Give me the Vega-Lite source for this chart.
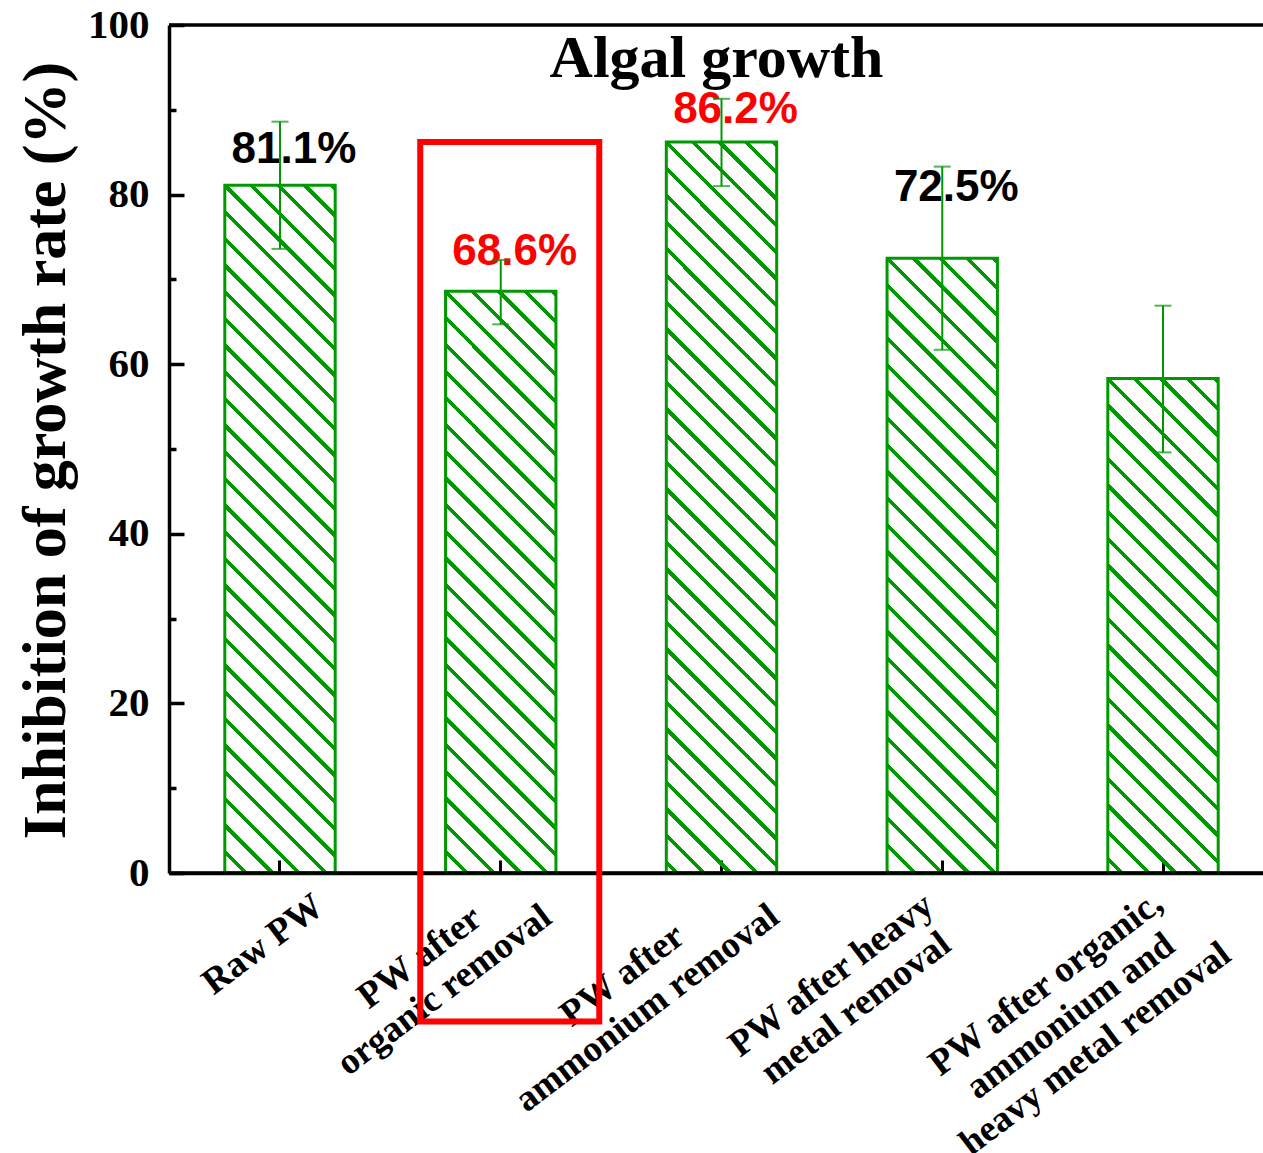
{
  "$schema": "https://vega.github.io/schema/vega-lite/v6.json",
  "width": 1094,
  "height": 848,
  "autosize": "none",
  "padding": {"left": 169, "top": 25, "right": 0, "bottom": 280},
  "background": "white",
  "config": {"view": {"stroke": null}},
  "datasets": {
    "bars": [
      {"cat": "Raw PW", "value": 81.1, "lower": 73.6, "upper": 88.6},
      {"cat": "PW after organic removal", "value": 68.6, "lower": 64.7, "upper": 72.3},
      {"cat": "PW after ammonium removal", "value": 86.2, "lower": 81.0, "upper": 91.3},
      {"cat": "PW after heavy metal removal", "value": 72.5, "lower": 61.7, "upper": 83.3},
      {"cat": "PW after organic, ammonium and heavy metal removal", "value": 58.3, "lower": 49.6, "upper": 66.9}
    ],
    "labels": [
      {"cat": "Raw PW", "pos": 85.3, "text": "81.1%", "group": "normal"},
      {"cat": "PW after organic removal", "pos": 73.2, "text": "68.6%", "group": "highlight"},
      {"cat": "PW after ammonium removal", "pos": 90.0, "text": "86.2%", "group": "highlight"},
      {"cat": "PW after heavy metal removal", "pos": 80.8, "text": "72.5%", "group": "normal"}
    ],
    "box": [{"cat": "PW after organic removal", "top": 86.2, "bottom": -17.5}]
  },
  "layer": [
    {
      "data": {"name": "bars"},
      "encoding": {
        "x": {
          "field": "cat", "type": "nominal", "sort": null,
          "scale": {"domain": ["Raw PW", "PW after organic removal", "PW after ammonium removal", "PW after heavy metal removal", "PW after organic, ammonium and heavy metal removal"], "range": [0, 1105], "paddingInner": 0.5, "paddingOuter": 0.2528},
          "axis": {
            "title": null,
            "labelExpr": "datum.value === 'Raw PW' ? 'Raw PW' : datum.value === 'PW after organic removal' ? ['PW after', 'organic removal'] : datum.value === 'PW after ammonium removal' ? ['PW after', 'ammonium removal'] : datum.value === 'PW after heavy metal removal' ? ['PW after heavy', 'metal removal'] : ['PW after organic,', 'ammonium and', 'heavy metal removal']",
            "labelAngle": -37,
            "labelAlign": "center",
            "labelBaseline": "middle",
            "labelFont": "Liberation Serif",
            "labelFontSize": 37,
            "labelFontWeight": "bold",
            "labelColor": "black",
            "labelLineHeight": 41,
            "labelLimit": 0,
            "labelOverlap": false,
            "labelOffset": {"condition": [
              {"test": "datum.value === 'Raw PW'", "value": -17},
              {"test": "datum.value === 'PW after organic removal'", "value": -81},
              {"test": "datum.value === 'PW after ammonium removal'", "value": -99},
              {"test": "datum.value === 'PW after heavy metal removal'", "value": -111}
            ], "value": -117},
            "labelPadding": {"condition": [
              {"test": "datum.value === 'Raw PW'", "value": 84},
              {"test": "datum.value === 'PW after organic removal'", "value": 97},
              {"test": "datum.value === 'PW after ammonium removal'", "value": 115},
              {"test": "datum.value === 'PW after heavy metal removal'", "value": 115}
            ], "value": 123},
            "tickSize": -13,
            "tickWidth": 3,
            "tickColor": "black",
            "domainColor": "black",
            "domainWidth": 3.5
          }
        }
      },
      "layer": [
        {
          "transform": [{"filter": "datum.cat === 'Raw PW'"}],
          "mark": {"type": "bar", "stroke": "#090", "strokeWidth": 3, "fill": {"gradient": "linear", "x1": 0, "y1": 1.0083, "x2": 0.2002, "y2": -0.2393, "stops": [{"offset":0.0273,"color":"#fff0"},{"offset":0.0273,"color":"#090"},{"offset":0.0333,"color":"#090"},{"offset":0.0333,"color":"#fff0"},{"offset":0.0576,"color":"#fff0"},{"offset":0.0576,"color":"#090"},{"offset":0.0636,"color":"#090"},{"offset":0.0636,"color":"#fff0"},{"offset":0.0879,"color":"#fff0"},{"offset":0.0879,"color":"#090"},{"offset":0.0939,"color":"#090"},{"offset":0.0939,"color":"#fff0"},{"offset":0.1182,"color":"#fff0"},{"offset":0.1182,"color":"#090"},{"offset":0.1242,"color":"#090"},{"offset":0.1242,"color":"#fff0"},{"offset":0.1485,"color":"#fff0"},{"offset":0.1485,"color":"#090"},{"offset":0.1545,"color":"#090"},{"offset":0.1545,"color":"#fff0"},{"offset":0.1788,"color":"#fff0"},{"offset":0.1788,"color":"#090"},{"offset":0.1848,"color":"#090"},{"offset":0.1848,"color":"#fff0"},{"offset":0.2091,"color":"#fff0"},{"offset":0.2091,"color":"#090"},{"offset":0.2151,"color":"#090"},{"offset":0.2151,"color":"#fff0"},{"offset":0.2394,"color":"#fff0"},{"offset":0.2394,"color":"#090"},{"offset":0.2454,"color":"#090"},{"offset":0.2454,"color":"#fff0"},{"offset":0.2697,"color":"#fff0"},{"offset":0.2697,"color":"#090"},{"offset":0.2757,"color":"#090"},{"offset":0.2757,"color":"#fff0"},{"offset":0.3,"color":"#fff0"},{"offset":0.3,"color":"#090"},{"offset":0.306,"color":"#090"},{"offset":0.306,"color":"#fff0"},{"offset":0.3303,"color":"#fff0"},{"offset":0.3303,"color":"#090"},{"offset":0.3363,"color":"#090"},{"offset":0.3363,"color":"#fff0"},{"offset":0.3606,"color":"#fff0"},{"offset":0.3606,"color":"#090"},{"offset":0.3666,"color":"#090"},{"offset":0.3666,"color":"#fff0"},{"offset":0.3909,"color":"#fff0"},{"offset":0.3909,"color":"#090"},{"offset":0.3969,"color":"#090"},{"offset":0.3969,"color":"#fff0"},{"offset":0.4212,"color":"#fff0"},{"offset":0.4212,"color":"#090"},{"offset":0.4272,"color":"#090"},{"offset":0.4272,"color":"#fff0"},{"offset":0.4515,"color":"#fff0"},{"offset":0.4515,"color":"#090"},{"offset":0.4575,"color":"#090"},{"offset":0.4575,"color":"#fff0"},{"offset":0.4818,"color":"#fff0"},{"offset":0.4818,"color":"#090"},{"offset":0.4878,"color":"#090"},{"offset":0.4878,"color":"#fff0"},{"offset":0.5122,"color":"#fff0"},{"offset":0.5122,"color":"#090"},{"offset":0.5182,"color":"#090"},{"offset":0.5182,"color":"#fff0"},{"offset":0.5425,"color":"#fff0"},{"offset":0.5425,"color":"#090"},{"offset":0.5485,"color":"#090"},{"offset":0.5485,"color":"#fff0"},{"offset":0.5728,"color":"#fff0"},{"offset":0.5728,"color":"#090"},{"offset":0.5788,"color":"#090"},{"offset":0.5788,"color":"#fff0"},{"offset":0.6031,"color":"#fff0"},{"offset":0.6031,"color":"#090"},{"offset":0.6091,"color":"#090"},{"offset":0.6091,"color":"#fff0"},{"offset":0.6334,"color":"#fff0"},{"offset":0.6334,"color":"#090"},{"offset":0.6394,"color":"#090"},{"offset":0.6394,"color":"#fff0"},{"offset":0.6637,"color":"#fff0"},{"offset":0.6637,"color":"#090"},{"offset":0.6697,"color":"#090"},{"offset":0.6697,"color":"#fff0"},{"offset":0.694,"color":"#fff0"},{"offset":0.694,"color":"#090"},{"offset":0.7,"color":"#090"},{"offset":0.7,"color":"#fff0"},{"offset":0.7243,"color":"#fff0"},{"offset":0.7243,"color":"#090"},{"offset":0.7303,"color":"#090"},{"offset":0.7303,"color":"#fff0"},{"offset":0.7546,"color":"#fff0"},{"offset":0.7546,"color":"#090"},{"offset":0.7606,"color":"#090"},{"offset":0.7606,"color":"#fff0"},{"offset":0.7849,"color":"#fff0"},{"offset":0.7849,"color":"#090"},{"offset":0.7909,"color":"#090"},{"offset":0.7909,"color":"#fff0"},{"offset":0.8152,"color":"#fff0"},{"offset":0.8152,"color":"#090"},{"offset":0.8212,"color":"#090"},{"offset":0.8212,"color":"#fff0"},{"offset":0.8455,"color":"#fff0"},{"offset":0.8455,"color":"#090"},{"offset":0.8515,"color":"#090"},{"offset":0.8515,"color":"#fff0"},{"offset":0.8758,"color":"#fff0"},{"offset":0.8758,"color":"#090"},{"offset":0.8818,"color":"#090"},{"offset":0.8818,"color":"#fff0"},{"offset":0.9061,"color":"#fff0"},{"offset":0.9061,"color":"#090"},{"offset":0.9121,"color":"#090"},{"offset":0.9121,"color":"#fff0"},{"offset":0.9364,"color":"#fff0"},{"offset":0.9364,"color":"#090"},{"offset":0.9424,"color":"#090"},{"offset":0.9424,"color":"#fff0"},{"offset":0.9667,"color":"#fff0"},{"offset":0.9667,"color":"#090"},{"offset":0.9727,"color":"#090"},{"offset":0.9727,"color":"#fff0"}]}},
          "encoding": {"y": {"field": "value", "type": "quantitative", "scale": {"domain": [0, 100], "nice": false},
            "axis": {
              "title": "Inhibition of growth rate (%)",
              "titleFont": "Liberation Serif", "titleFontSize": 62, "titleFontWeight": "bold", "titleColor": "black",
              "titleX": -92, "titleY": 425, "titleAlign": "center", "titleBaseline": "bottom", "titleAngle": -90,
              "values": [0, 10, 20, 30, 40, 50, 60, 70, 80, 90, 100],
              "labelExpr": "datum.value % 20 === 0 ? datum.label : ''",
              "labelFont": "Liberation Serif", "labelFontSize": 41, "labelFontWeight": "bold", "labelColor": "black",
              "labelPadding": 35, "labelOverlap": false,
              "tickSize": {"condition": {"test": "datum.value % 20 === 0", "value": -15}, "value": -7},
              "tickWidth": 3.5, "tickColor": "black", "domainColor": "black", "domainWidth": 3.5, "grid": false
            }}}
        },
        {
          "transform": [{"filter": "datum.cat === 'PW after organic removal'"}],
          "mark": {"type": "bar", "stroke": "#090", "strokeWidth": 3, "fill": {"gradient": "linear", "x1": 0, "y1": 1.0086, "x2": 0.2771, "y2": -0.4517, "stops": [{"offset":0.0273,"color":"#fff0"},{"offset":0.0273,"color":"#090"},{"offset":0.0333,"color":"#090"},{"offset":0.0333,"color":"#fff0"},{"offset":0.0576,"color":"#fff0"},{"offset":0.0576,"color":"#090"},{"offset":0.0636,"color":"#090"},{"offset":0.0636,"color":"#fff0"},{"offset":0.0879,"color":"#fff0"},{"offset":0.0879,"color":"#090"},{"offset":0.0939,"color":"#090"},{"offset":0.0939,"color":"#fff0"},{"offset":0.1182,"color":"#fff0"},{"offset":0.1182,"color":"#090"},{"offset":0.1242,"color":"#090"},{"offset":0.1242,"color":"#fff0"},{"offset":0.1485,"color":"#fff0"},{"offset":0.1485,"color":"#090"},{"offset":0.1545,"color":"#090"},{"offset":0.1545,"color":"#fff0"},{"offset":0.1788,"color":"#fff0"},{"offset":0.1788,"color":"#090"},{"offset":0.1848,"color":"#090"},{"offset":0.1848,"color":"#fff0"},{"offset":0.2091,"color":"#fff0"},{"offset":0.2091,"color":"#090"},{"offset":0.2151,"color":"#090"},{"offset":0.2151,"color":"#fff0"},{"offset":0.2394,"color":"#fff0"},{"offset":0.2394,"color":"#090"},{"offset":0.2454,"color":"#090"},{"offset":0.2454,"color":"#fff0"},{"offset":0.2697,"color":"#fff0"},{"offset":0.2697,"color":"#090"},{"offset":0.2757,"color":"#090"},{"offset":0.2757,"color":"#fff0"},{"offset":0.3,"color":"#fff0"},{"offset":0.3,"color":"#090"},{"offset":0.306,"color":"#090"},{"offset":0.306,"color":"#fff0"},{"offset":0.3303,"color":"#fff0"},{"offset":0.3303,"color":"#090"},{"offset":0.3363,"color":"#090"},{"offset":0.3363,"color":"#fff0"},{"offset":0.3606,"color":"#fff0"},{"offset":0.3606,"color":"#090"},{"offset":0.3666,"color":"#090"},{"offset":0.3666,"color":"#fff0"},{"offset":0.3909,"color":"#fff0"},{"offset":0.3909,"color":"#090"},{"offset":0.3969,"color":"#090"},{"offset":0.3969,"color":"#fff0"},{"offset":0.4212,"color":"#fff0"},{"offset":0.4212,"color":"#090"},{"offset":0.4272,"color":"#090"},{"offset":0.4272,"color":"#fff0"},{"offset":0.4515,"color":"#fff0"},{"offset":0.4515,"color":"#090"},{"offset":0.4575,"color":"#090"},{"offset":0.4575,"color":"#fff0"},{"offset":0.4818,"color":"#fff0"},{"offset":0.4818,"color":"#090"},{"offset":0.4878,"color":"#090"},{"offset":0.4878,"color":"#fff0"},{"offset":0.5122,"color":"#fff0"},{"offset":0.5122,"color":"#090"},{"offset":0.5182,"color":"#090"},{"offset":0.5182,"color":"#fff0"},{"offset":0.5425,"color":"#fff0"},{"offset":0.5425,"color":"#090"},{"offset":0.5485,"color":"#090"},{"offset":0.5485,"color":"#fff0"},{"offset":0.5728,"color":"#fff0"},{"offset":0.5728,"color":"#090"},{"offset":0.5788,"color":"#090"},{"offset":0.5788,"color":"#fff0"},{"offset":0.6031,"color":"#fff0"},{"offset":0.6031,"color":"#090"},{"offset":0.6091,"color":"#090"},{"offset":0.6091,"color":"#fff0"},{"offset":0.6334,"color":"#fff0"},{"offset":0.6334,"color":"#090"},{"offset":0.6394,"color":"#090"},{"offset":0.6394,"color":"#fff0"},{"offset":0.6637,"color":"#fff0"},{"offset":0.6637,"color":"#090"},{"offset":0.6697,"color":"#090"},{"offset":0.6697,"color":"#fff0"},{"offset":0.694,"color":"#fff0"},{"offset":0.694,"color":"#090"},{"offset":0.7,"color":"#090"},{"offset":0.7,"color":"#fff0"},{"offset":0.7243,"color":"#fff0"},{"offset":0.7243,"color":"#090"},{"offset":0.7303,"color":"#090"},{"offset":0.7303,"color":"#fff0"},{"offset":0.7546,"color":"#fff0"},{"offset":0.7546,"color":"#090"},{"offset":0.7606,"color":"#090"},{"offset":0.7606,"color":"#fff0"},{"offset":0.7849,"color":"#fff0"},{"offset":0.7849,"color":"#090"},{"offset":0.7909,"color":"#090"},{"offset":0.7909,"color":"#fff0"},{"offset":0.8152,"color":"#fff0"},{"offset":0.8152,"color":"#090"},{"offset":0.8212,"color":"#090"},{"offset":0.8212,"color":"#fff0"},{"offset":0.8455,"color":"#fff0"},{"offset":0.8455,"color":"#090"},{"offset":0.8515,"color":"#090"},{"offset":0.8515,"color":"#fff0"},{"offset":0.8758,"color":"#fff0"},{"offset":0.8758,"color":"#090"},{"offset":0.8818,"color":"#090"},{"offset":0.8818,"color":"#fff0"},{"offset":0.9061,"color":"#fff0"},{"offset":0.9061,"color":"#090"},{"offset":0.9121,"color":"#090"},{"offset":0.9121,"color":"#fff0"},{"offset":0.9364,"color":"#fff0"},{"offset":0.9364,"color":"#090"},{"offset":0.9424,"color":"#090"},{"offset":0.9424,"color":"#fff0"},{"offset":0.9667,"color":"#fff0"},{"offset":0.9667,"color":"#090"},{"offset":0.9727,"color":"#090"},{"offset":0.9727,"color":"#fff0"}]}},
          "encoding": {"y": {"field": "value", "type": "quantitative"}}
        },
        {
          "transform": [{"filter": "datum.cat === 'PW after ammonium removal'"}],
          "mark": {"type": "bar", "stroke": "#090", "strokeWidth": 3, "fill": {"gradient": "linear", "x1": 0, "y1": 1.0216, "x2": 0.1778, "y2": -0.1556, "stops": [{"offset":0.0273,"color":"#fff0"},{"offset":0.0273,"color":"#090"},{"offset":0.0333,"color":"#090"},{"offset":0.0333,"color":"#fff0"},{"offset":0.0576,"color":"#fff0"},{"offset":0.0576,"color":"#090"},{"offset":0.0636,"color":"#090"},{"offset":0.0636,"color":"#fff0"},{"offset":0.0879,"color":"#fff0"},{"offset":0.0879,"color":"#090"},{"offset":0.0939,"color":"#090"},{"offset":0.0939,"color":"#fff0"},{"offset":0.1182,"color":"#fff0"},{"offset":0.1182,"color":"#090"},{"offset":0.1242,"color":"#090"},{"offset":0.1242,"color":"#fff0"},{"offset":0.1485,"color":"#fff0"},{"offset":0.1485,"color":"#090"},{"offset":0.1545,"color":"#090"},{"offset":0.1545,"color":"#fff0"},{"offset":0.1788,"color":"#fff0"},{"offset":0.1788,"color":"#090"},{"offset":0.1848,"color":"#090"},{"offset":0.1848,"color":"#fff0"},{"offset":0.2091,"color":"#fff0"},{"offset":0.2091,"color":"#090"},{"offset":0.2151,"color":"#090"},{"offset":0.2151,"color":"#fff0"},{"offset":0.2394,"color":"#fff0"},{"offset":0.2394,"color":"#090"},{"offset":0.2454,"color":"#090"},{"offset":0.2454,"color":"#fff0"},{"offset":0.2697,"color":"#fff0"},{"offset":0.2697,"color":"#090"},{"offset":0.2757,"color":"#090"},{"offset":0.2757,"color":"#fff0"},{"offset":0.3,"color":"#fff0"},{"offset":0.3,"color":"#090"},{"offset":0.306,"color":"#090"},{"offset":0.306,"color":"#fff0"},{"offset":0.3303,"color":"#fff0"},{"offset":0.3303,"color":"#090"},{"offset":0.3363,"color":"#090"},{"offset":0.3363,"color":"#fff0"},{"offset":0.3606,"color":"#fff0"},{"offset":0.3606,"color":"#090"},{"offset":0.3666,"color":"#090"},{"offset":0.3666,"color":"#fff0"},{"offset":0.3909,"color":"#fff0"},{"offset":0.3909,"color":"#090"},{"offset":0.3969,"color":"#090"},{"offset":0.3969,"color":"#fff0"},{"offset":0.4212,"color":"#fff0"},{"offset":0.4212,"color":"#090"},{"offset":0.4272,"color":"#090"},{"offset":0.4272,"color":"#fff0"},{"offset":0.4515,"color":"#fff0"},{"offset":0.4515,"color":"#090"},{"offset":0.4575,"color":"#090"},{"offset":0.4575,"color":"#fff0"},{"offset":0.4818,"color":"#fff0"},{"offset":0.4818,"color":"#090"},{"offset":0.4878,"color":"#090"},{"offset":0.4878,"color":"#fff0"},{"offset":0.5122,"color":"#fff0"},{"offset":0.5122,"color":"#090"},{"offset":0.5182,"color":"#090"},{"offset":0.5182,"color":"#fff0"},{"offset":0.5425,"color":"#fff0"},{"offset":0.5425,"color":"#090"},{"offset":0.5485,"color":"#090"},{"offset":0.5485,"color":"#fff0"},{"offset":0.5728,"color":"#fff0"},{"offset":0.5728,"color":"#090"},{"offset":0.5788,"color":"#090"},{"offset":0.5788,"color":"#fff0"},{"offset":0.6031,"color":"#fff0"},{"offset":0.6031,"color":"#090"},{"offset":0.6091,"color":"#090"},{"offset":0.6091,"color":"#fff0"},{"offset":0.6334,"color":"#fff0"},{"offset":0.6334,"color":"#090"},{"offset":0.6394,"color":"#090"},{"offset":0.6394,"color":"#fff0"},{"offset":0.6637,"color":"#fff0"},{"offset":0.6637,"color":"#090"},{"offset":0.6697,"color":"#090"},{"offset":0.6697,"color":"#fff0"},{"offset":0.694,"color":"#fff0"},{"offset":0.694,"color":"#090"},{"offset":0.7,"color":"#090"},{"offset":0.7,"color":"#fff0"},{"offset":0.7243,"color":"#fff0"},{"offset":0.7243,"color":"#090"},{"offset":0.7303,"color":"#090"},{"offset":0.7303,"color":"#fff0"},{"offset":0.7546,"color":"#fff0"},{"offset":0.7546,"color":"#090"},{"offset":0.7606,"color":"#090"},{"offset":0.7606,"color":"#fff0"},{"offset":0.7849,"color":"#fff0"},{"offset":0.7849,"color":"#090"},{"offset":0.7909,"color":"#090"},{"offset":0.7909,"color":"#fff0"},{"offset":0.8152,"color":"#fff0"},{"offset":0.8152,"color":"#090"},{"offset":0.8212,"color":"#090"},{"offset":0.8212,"color":"#fff0"},{"offset":0.8455,"color":"#fff0"},{"offset":0.8455,"color":"#090"},{"offset":0.8515,"color":"#090"},{"offset":0.8515,"color":"#fff0"},{"offset":0.8758,"color":"#fff0"},{"offset":0.8758,"color":"#090"},{"offset":0.8818,"color":"#090"},{"offset":0.8818,"color":"#fff0"},{"offset":0.9061,"color":"#fff0"},{"offset":0.9061,"color":"#090"},{"offset":0.9121,"color":"#090"},{"offset":0.9121,"color":"#fff0"},{"offset":0.9364,"color":"#fff0"},{"offset":0.9364,"color":"#090"},{"offset":0.9424,"color":"#090"},{"offset":0.9424,"color":"#fff0"},{"offset":0.9667,"color":"#fff0"},{"offset":0.9667,"color":"#090"},{"offset":0.9727,"color":"#090"},{"offset":0.9727,"color":"#fff0"}]}},
          "encoding": {"y": {"field": "value", "type": "quantitative"}}
        },
        {
          "transform": [{"filter": "datum.cat === 'PW after heavy metal removal'"}],
          "mark": {"type": "bar", "stroke": "#090", "strokeWidth": 3, "fill": {"gradient": "linear", "x1": 0, "y1": 1.0411, "x2": 0.249, "y2": -0.3457, "stops": [{"offset":0.0273,"color":"#fff0"},{"offset":0.0273,"color":"#090"},{"offset":0.0333,"color":"#090"},{"offset":0.0333,"color":"#fff0"},{"offset":0.0576,"color":"#fff0"},{"offset":0.0576,"color":"#090"},{"offset":0.0636,"color":"#090"},{"offset":0.0636,"color":"#fff0"},{"offset":0.0879,"color":"#fff0"},{"offset":0.0879,"color":"#090"},{"offset":0.0939,"color":"#090"},{"offset":0.0939,"color":"#fff0"},{"offset":0.1182,"color":"#fff0"},{"offset":0.1182,"color":"#090"},{"offset":0.1242,"color":"#090"},{"offset":0.1242,"color":"#fff0"},{"offset":0.1485,"color":"#fff0"},{"offset":0.1485,"color":"#090"},{"offset":0.1545,"color":"#090"},{"offset":0.1545,"color":"#fff0"},{"offset":0.1788,"color":"#fff0"},{"offset":0.1788,"color":"#090"},{"offset":0.1848,"color":"#090"},{"offset":0.1848,"color":"#fff0"},{"offset":0.2091,"color":"#fff0"},{"offset":0.2091,"color":"#090"},{"offset":0.2151,"color":"#090"},{"offset":0.2151,"color":"#fff0"},{"offset":0.2394,"color":"#fff0"},{"offset":0.2394,"color":"#090"},{"offset":0.2454,"color":"#090"},{"offset":0.2454,"color":"#fff0"},{"offset":0.2697,"color":"#fff0"},{"offset":0.2697,"color":"#090"},{"offset":0.2757,"color":"#090"},{"offset":0.2757,"color":"#fff0"},{"offset":0.3,"color":"#fff0"},{"offset":0.3,"color":"#090"},{"offset":0.306,"color":"#090"},{"offset":0.306,"color":"#fff0"},{"offset":0.3303,"color":"#fff0"},{"offset":0.3303,"color":"#090"},{"offset":0.3363,"color":"#090"},{"offset":0.3363,"color":"#fff0"},{"offset":0.3606,"color":"#fff0"},{"offset":0.3606,"color":"#090"},{"offset":0.3666,"color":"#090"},{"offset":0.3666,"color":"#fff0"},{"offset":0.3909,"color":"#fff0"},{"offset":0.3909,"color":"#090"},{"offset":0.3969,"color":"#090"},{"offset":0.3969,"color":"#fff0"},{"offset":0.4212,"color":"#fff0"},{"offset":0.4212,"color":"#090"},{"offset":0.4272,"color":"#090"},{"offset":0.4272,"color":"#fff0"},{"offset":0.4515,"color":"#fff0"},{"offset":0.4515,"color":"#090"},{"offset":0.4575,"color":"#090"},{"offset":0.4575,"color":"#fff0"},{"offset":0.4818,"color":"#fff0"},{"offset":0.4818,"color":"#090"},{"offset":0.4878,"color":"#090"},{"offset":0.4878,"color":"#fff0"},{"offset":0.5122,"color":"#fff0"},{"offset":0.5122,"color":"#090"},{"offset":0.5182,"color":"#090"},{"offset":0.5182,"color":"#fff0"},{"offset":0.5425,"color":"#fff0"},{"offset":0.5425,"color":"#090"},{"offset":0.5485,"color":"#090"},{"offset":0.5485,"color":"#fff0"},{"offset":0.5728,"color":"#fff0"},{"offset":0.5728,"color":"#090"},{"offset":0.5788,"color":"#090"},{"offset":0.5788,"color":"#fff0"},{"offset":0.6031,"color":"#fff0"},{"offset":0.6031,"color":"#090"},{"offset":0.6091,"color":"#090"},{"offset":0.6091,"color":"#fff0"},{"offset":0.6334,"color":"#fff0"},{"offset":0.6334,"color":"#090"},{"offset":0.6394,"color":"#090"},{"offset":0.6394,"color":"#fff0"},{"offset":0.6637,"color":"#fff0"},{"offset":0.6637,"color":"#090"},{"offset":0.6697,"color":"#090"},{"offset":0.6697,"color":"#fff0"},{"offset":0.694,"color":"#fff0"},{"offset":0.694,"color":"#090"},{"offset":0.7,"color":"#090"},{"offset":0.7,"color":"#fff0"},{"offset":0.7243,"color":"#fff0"},{"offset":0.7243,"color":"#090"},{"offset":0.7303,"color":"#090"},{"offset":0.7303,"color":"#fff0"},{"offset":0.7546,"color":"#fff0"},{"offset":0.7546,"color":"#090"},{"offset":0.7606,"color":"#090"},{"offset":0.7606,"color":"#fff0"},{"offset":0.7849,"color":"#fff0"},{"offset":0.7849,"color":"#090"},{"offset":0.7909,"color":"#090"},{"offset":0.7909,"color":"#fff0"},{"offset":0.8152,"color":"#fff0"},{"offset":0.8152,"color":"#090"},{"offset":0.8212,"color":"#090"},{"offset":0.8212,"color":"#fff0"},{"offset":0.8455,"color":"#fff0"},{"offset":0.8455,"color":"#090"},{"offset":0.8515,"color":"#090"},{"offset":0.8515,"color":"#fff0"},{"offset":0.8758,"color":"#fff0"},{"offset":0.8758,"color":"#090"},{"offset":0.8818,"color":"#090"},{"offset":0.8818,"color":"#fff0"},{"offset":0.9061,"color":"#fff0"},{"offset":0.9061,"color":"#090"},{"offset":0.9121,"color":"#090"},{"offset":0.9121,"color":"#fff0"},{"offset":0.9364,"color":"#fff0"},{"offset":0.9364,"color":"#090"},{"offset":0.9424,"color":"#090"},{"offset":0.9424,"color":"#fff0"},{"offset":0.9667,"color":"#fff0"},{"offset":0.9667,"color":"#090"},{"offset":0.9727,"color":"#090"},{"offset":0.9727,"color":"#fff0"}]}},
          "encoding": {"y": {"field": "value", "type": "quantitative"}}
        },
        {
          "transform": [{"filter": "datum.cat === 'PW after organic, ammonium and heavy metal removal'"}],
          "mark": {"type": "bar", "stroke": "#090", "strokeWidth": 3, "fill": {"gradient": "linear", "x1": 0, "y1": 1.025, "x2": 0.3786, "y2": -0.6707, "stops": [{"offset":0.0273,"color":"#fff0"},{"offset":0.0273,"color":"#090"},{"offset":0.0333,"color":"#090"},{"offset":0.0333,"color":"#fff0"},{"offset":0.0576,"color":"#fff0"},{"offset":0.0576,"color":"#090"},{"offset":0.0636,"color":"#090"},{"offset":0.0636,"color":"#fff0"},{"offset":0.0879,"color":"#fff0"},{"offset":0.0879,"color":"#090"},{"offset":0.0939,"color":"#090"},{"offset":0.0939,"color":"#fff0"},{"offset":0.1182,"color":"#fff0"},{"offset":0.1182,"color":"#090"},{"offset":0.1242,"color":"#090"},{"offset":0.1242,"color":"#fff0"},{"offset":0.1485,"color":"#fff0"},{"offset":0.1485,"color":"#090"},{"offset":0.1545,"color":"#090"},{"offset":0.1545,"color":"#fff0"},{"offset":0.1788,"color":"#fff0"},{"offset":0.1788,"color":"#090"},{"offset":0.1848,"color":"#090"},{"offset":0.1848,"color":"#fff0"},{"offset":0.2091,"color":"#fff0"},{"offset":0.2091,"color":"#090"},{"offset":0.2151,"color":"#090"},{"offset":0.2151,"color":"#fff0"},{"offset":0.2394,"color":"#fff0"},{"offset":0.2394,"color":"#090"},{"offset":0.2454,"color":"#090"},{"offset":0.2454,"color":"#fff0"},{"offset":0.2697,"color":"#fff0"},{"offset":0.2697,"color":"#090"},{"offset":0.2757,"color":"#090"},{"offset":0.2757,"color":"#fff0"},{"offset":0.3,"color":"#fff0"},{"offset":0.3,"color":"#090"},{"offset":0.306,"color":"#090"},{"offset":0.306,"color":"#fff0"},{"offset":0.3303,"color":"#fff0"},{"offset":0.3303,"color":"#090"},{"offset":0.3363,"color":"#090"},{"offset":0.3363,"color":"#fff0"},{"offset":0.3606,"color":"#fff0"},{"offset":0.3606,"color":"#090"},{"offset":0.3666,"color":"#090"},{"offset":0.3666,"color":"#fff0"},{"offset":0.3909,"color":"#fff0"},{"offset":0.3909,"color":"#090"},{"offset":0.3969,"color":"#090"},{"offset":0.3969,"color":"#fff0"},{"offset":0.4212,"color":"#fff0"},{"offset":0.4212,"color":"#090"},{"offset":0.4272,"color":"#090"},{"offset":0.4272,"color":"#fff0"},{"offset":0.4515,"color":"#fff0"},{"offset":0.4515,"color":"#090"},{"offset":0.4575,"color":"#090"},{"offset":0.4575,"color":"#fff0"},{"offset":0.4818,"color":"#fff0"},{"offset":0.4818,"color":"#090"},{"offset":0.4878,"color":"#090"},{"offset":0.4878,"color":"#fff0"},{"offset":0.5122,"color":"#fff0"},{"offset":0.5122,"color":"#090"},{"offset":0.5182,"color":"#090"},{"offset":0.5182,"color":"#fff0"},{"offset":0.5425,"color":"#fff0"},{"offset":0.5425,"color":"#090"},{"offset":0.5485,"color":"#090"},{"offset":0.5485,"color":"#fff0"},{"offset":0.5728,"color":"#fff0"},{"offset":0.5728,"color":"#090"},{"offset":0.5788,"color":"#090"},{"offset":0.5788,"color":"#fff0"},{"offset":0.6031,"color":"#fff0"},{"offset":0.6031,"color":"#090"},{"offset":0.6091,"color":"#090"},{"offset":0.6091,"color":"#fff0"},{"offset":0.6334,"color":"#fff0"},{"offset":0.6334,"color":"#090"},{"offset":0.6394,"color":"#090"},{"offset":0.6394,"color":"#fff0"},{"offset":0.6637,"color":"#fff0"},{"offset":0.6637,"color":"#090"},{"offset":0.6697,"color":"#090"},{"offset":0.6697,"color":"#fff0"},{"offset":0.694,"color":"#fff0"},{"offset":0.694,"color":"#090"},{"offset":0.7,"color":"#090"},{"offset":0.7,"color":"#fff0"},{"offset":0.7243,"color":"#fff0"},{"offset":0.7243,"color":"#090"},{"offset":0.7303,"color":"#090"},{"offset":0.7303,"color":"#fff0"},{"offset":0.7546,"color":"#fff0"},{"offset":0.7546,"color":"#090"},{"offset":0.7606,"color":"#090"},{"offset":0.7606,"color":"#fff0"},{"offset":0.7849,"color":"#fff0"},{"offset":0.7849,"color":"#090"},{"offset":0.7909,"color":"#090"},{"offset":0.7909,"color":"#fff0"},{"offset":0.8152,"color":"#fff0"},{"offset":0.8152,"color":"#090"},{"offset":0.8212,"color":"#090"},{"offset":0.8212,"color":"#fff0"},{"offset":0.8455,"color":"#fff0"},{"offset":0.8455,"color":"#090"},{"offset":0.8515,"color":"#090"},{"offset":0.8515,"color":"#fff0"},{"offset":0.8758,"color":"#fff0"},{"offset":0.8758,"color":"#090"},{"offset":0.8818,"color":"#090"},{"offset":0.8818,"color":"#fff0"},{"offset":0.9061,"color":"#fff0"},{"offset":0.9061,"color":"#090"},{"offset":0.9121,"color":"#090"},{"offset":0.9121,"color":"#fff0"},{"offset":0.9364,"color":"#fff0"},{"offset":0.9364,"color":"#090"},{"offset":0.9424,"color":"#090"},{"offset":0.9424,"color":"#fff0"},{"offset":0.9667,"color":"#fff0"},{"offset":0.9667,"color":"#090"},{"offset":0.9727,"color":"#090"},{"offset":0.9727,"color":"#fff0"}]}},
          "encoding": {"y": {"field": "value", "type": "quantitative"}}
        }
      ]
    },
    {
      "data": {"values": [{}]},
      "mark": {"type": "rule", "color": "black", "strokeWidth": 3.5},
      "encoding": {"y": {"datum": 0}}
    },
    {
      "data": {"values": [{}]},
      "mark": {"type": "rule", "color": "black", "strokeWidth": 3.5},
      "encoding": {"y": {"datum": 100}}
    },
    {
      "encoding": {
        "x": {
          "field": "cat", "type": "nominal", "sort": null,
          "scale": {"domain": ["Raw PW", "PW after organic removal", "PW after ammonium removal", "PW after heavy metal removal", "PW after organic, ammonium and heavy metal removal"], "range": [0, 1105], "paddingInner": 0.5, "paddingOuter": 0.2528}
        }
      },
      "layer": [
        {
          "data": {"name": "box"},
          "mark": {"type": "bar", "fill": "transparent", "stroke": "#ff0000", "strokeWidth": 6, "width": {"band": 1.622}, "xOffset": 9},
          "encoding": {"y": {"field": "top", "type": "quantitative"}, "y2": {"field": "bottom"}}
        },
        {
          "data": {"values": [{}]},
          "mark": {"type": "text", "font": "Liberation Serif", "fontSize": 60, "fontWeight": "bold", "color": "black", "baseline": "alphabetic", "align": "center", "dx": -5},
          "encoding": {"x": {"datum": "PW after ammonium removal"}, "y": {"datum": 93.9}, "text": {"value": "Algal growth"}}
        },
        {
          "data": {"name": "labels"},
          "mark": {"type": "text", "font": "Liberation Sans", "fontSize": 44, "fontWeight": "bold", "dx": 14, "baseline": "middle", "align": "center"},
          "encoding": {
            "y": {"field": "pos", "type": "quantitative"},
            "text": {"field": "text"},
            "color": {"field": "group", "type": "nominal", "scale": {"domain": ["normal", "highlight"], "range": ["black", "#ff0000"]}, "legend": null}
          }
        },
        {
          "data": {"name": "bars"},
          "mark": {"type": "rule", "color": "#090", "strokeWidth": 2},
          "encoding": {"y": {"field": "lower", "type": "quantitative"}, "y2": {"field": "upper"}}
        },
        {
          "data": {"name": "bars"},
          "mark": {"type": "tick", "color": "#090", "thickness": 2, "size": 17, "orient": "horizontal"},
          "encoding": {"y": {"field": "upper", "type": "quantitative"}}
        },
        {
          "data": {"name": "bars"},
          "mark": {"type": "tick", "color": "#090", "thickness": 2, "size": 17, "orient": "horizontal"},
          "encoding": {"y": {"field": "lower", "type": "quantitative"}}
        }
      ]
    }
  ]
}
